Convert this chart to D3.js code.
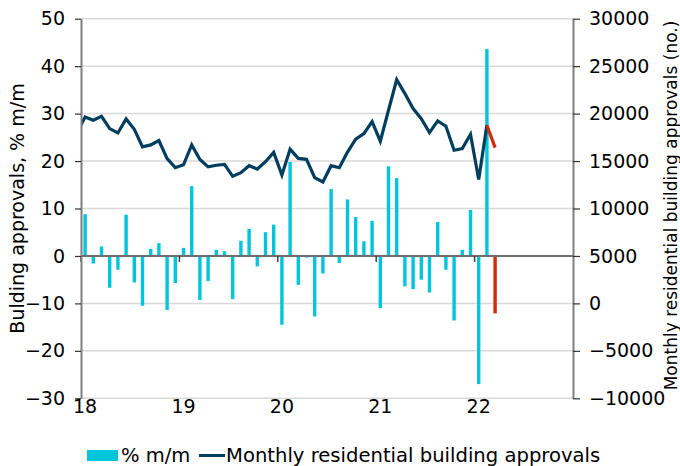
<!DOCTYPE html>
<html>
<head>
<meta charset="utf-8">
<script src="https://cdn.jsdelivr.net/npm/d3@7"></script>
<style>
  html, body { margin: 0; padding: 0; background: #fff; }
  svg { display: block; font-family: "DejaVu Sans", Verdana, sans-serif; }
</style>
</head>
<body>
<svg id="chart" width="680" height="466"></svg>
<script>
// ---- data ----
// Monthly residential building approvals (no.), Dec 2017 .. Mar 2022
const lineStartYear = 2017, lineStartMonth = 11; // December 2017 (0-based month)
const approvals = [
  18000,
  19650, 19300, 19720, 18420, 17960, 19440, 18350, 16490, 16700, 17160, 15250, 14300,
  14600, 16700, 15160, 14390, 14560, 14650, 13390, 13770, 14510, 14160, 14930, 15910,
  13530, 16260, 15280, 15180, 13250, 12790, 14510, 14300, 15950, 17300, 17890, 19160,
  17090, 20350, 23580, 22110, 20530, 19470, 18000, 19230, 18670, 16140, 16320, 17820,
  13050, 18770, 16420
];
// % m/m, Jan 2018 .. Mar 2022 (last value = latest month, highlighted)
const barStartYear = 2018, barStartMonth = 0;
const pctChange = [
  8.8, -1.6, 2.0, -6.7, -2.9, 8.7, -5.6, -10.5, 1.5, 2.7, -11.4, -5.7,
  1.7, 14.7, -9.3, -5.3, 1.3, 1.0, -9.1, 3.2, 5.7, -2.2, 5.0, 6.6,
  -14.5, 19.8, -6.1, -0.35, -12.75, -3.7, 14.1, -1.5, 11.9, 8.2, 3.1, 7.4,
  -11.0, 18.9, 16.4, -6.4, -7.0, -5.0, -7.7, 7.15, -2.9, -13.6, 1.3, 9.7,
  -27.0, 43.6, -12.1
];
const xTickYears = [2018, 2019, 2020, 2021, 2022];
const xTickLabels = ["18", "19", "20", "21", "22"];
const leftTicks = [-30, -20, -10, 0, 10, 20, 30, 40, 50];
const rightTicks = [-10000, -5000, 0, 5000, 10000, 15000, 20000, 25000, 30000];
const leftTitle = "Bulding approvals, % m/m";
const rightTitle = "Monthly residential building approvals (no.)";
const legendBar = "% m/m";
const legendLine = "Monthly residential building approvals";

// ---- layout ----
const svg = d3.select("#chart");
const L = 81, R = 573, T = 18.7, B = 398.3;
const cCyan = "#00C5DB", cNavy = "#003E5F", cRed = "#CF2A0B";
const cGrid = "#D9D9D9", cAxis = "#7F7F7F";

const x = d3.scaleLinear().domain([2018, 2023]).range([L, R]);
const yL = d3.scaleLinear().domain([-30, 50]).range([B, T]);
const yR = d3.scaleLinear().domain([-10000, 30000]).range([B, T]);

const monthPos = (y0, m0, i) => { const m = m0 + i; return y0 + Math.floor(m / 12) + ((m % 12) + 0.5) / 12; };

const bars = pctChange.map((v, i) => ({ t: monthPos(barStartYear, barStartMonth, i), v, last: i === pctChange.length - 1 }));
const pts = approvals.map((v, i) => ({ t: monthPos(lineStartYear, lineStartMonth, i), v }));

// clip
svg.append("defs").append("clipPath").attr("id", "plot")
  .append("rect").attr("x", L).attr("y", 0).attr("width", R - L).attr("height", 466);

// gridlines
svg.append("g").selectAll("line").data(leftTicks.filter(d => d !== 0)).join("line")
  .attr("x1", L).attr("x2", R).attr("y1", d => yL(d)).attr("y2", d => yL(d))
  .attr("stroke", cGrid).attr("stroke-width", 1.5);

// bars
const bw = 3.4;
svg.append("g").selectAll("rect").data(bars).join("rect")
  .attr("x", d => x(d.t) - bw / 2)
  .attr("width", bw)
  .attr("y", d => yL(Math.max(0, d.v)))
  .attr("height", d => Math.abs(yL(d.v) - yL(0)))
  .attr("fill", d => d.last ? cRed : cCyan);

// zero line + year ticks
svg.append("line").attr("x1", L).attr("x2", R).attr("y1", yL(0)).attr("y2", yL(0))
  .attr("stroke", "#6E6E6E").attr("stroke-width", 2);
svg.append("g").selectAll("line").data(xTickYears).join("line")
  .attr("x1", d => x(d)).attr("x2", d => x(d))
  .attr("y1", yL(0)).attr("y2", yL(0) + 6)
  .attr("stroke", "#404040").attr("stroke-width", 1.5);

// approvals line (blue part, then red latest segment)
const lineGen = d3.line().x(d => x(d.t)).y(d => yR(d.v));
const gl = svg.append("g").attr("clip-path", "url(#plot)");
gl.append("path").datum(pts.slice(0, pts.length - 1))
  .attr("d", lineGen).attr("fill", "none").attr("stroke", cNavy)
  .attr("stroke-width", 3.2).attr("stroke-linejoin", "miter").attr("stroke-linecap", "butt");
gl.append("path").datum(pts.slice(pts.length - 2))
  .attr("d", lineGen).attr("fill", "none").attr("stroke", cRed)
  .attr("stroke-width", 3.2);

// axes
const axL = svg.append("g").attr("transform", `translate(${L},0)`)
  .call(d3.axisLeft(yL).tickValues(leftTicks).tickSize(6).tickSizeOuter(0).tickPadding(10));
const axR = svg.append("g").attr("transform", `translate(${R},0)`)
  .call(d3.axisRight(yR).tickValues(rightTicks).tickSize(7).tickSizeOuter(0).tickPadding(9).tickFormat(d3.format("d")));
[axL, axR].forEach(g => {
  g.select(".domain").attr("stroke", cAxis).attr("stroke-width", 2);
  g.selectAll(".tick line").attr("stroke", "#333").attr("stroke-width", 1.2);
  g.selectAll(".tick text").attr("fill", "#000").attr("font-size", 19).attr("font-family", "DejaVu Sans");
});

// x labels (bottom)
svg.append("g").selectAll("text").data(xTickYears).join("text")
  .attr("x", (d) => x(d + 0.5 / 12)).attr("y", 413)
  .attr("text-anchor", "middle").attr("font-size", 19).attr("fill", "#000")
  .text((d, i) => xTickLabels[i]);

// axis titles
svg.append("text").attr("transform", `translate(24,${(T + B) / 2}) rotate(-90)`)
  .attr("text-anchor", "middle").attr("font-size", 19).attr("fill", "#000").text(leftTitle);
svg.append("text").attr("transform", `translate(677,${(T + B) / 2 - 3}) rotate(-90)`)
  .attr("text-anchor", "middle").attr("font-size", 17).attr("fill", "#000").text(rightTitle);

// legend
const lg = svg.append("g");
lg.append("rect").attr("x", 87).attr("y", 450).attr("width", 31).attr("height", 11).attr("fill", cCyan);
lg.append("text").attr("x", 121).attr("y", 462).attr("font-size", 19.5).attr("fill", "#000").text(legendBar);
lg.append("line").attr("x1", 199).attr("x2", 225).attr("y1", 455.5).attr("y2", 455.5)
  .attr("stroke", cNavy).attr("stroke-width", 3);
lg.append("text").attr("x", 226).attr("y", 462).attr("font-size", 19.6).attr("fill", "#000").text(legendLine);
</script>
</body>
</html>
